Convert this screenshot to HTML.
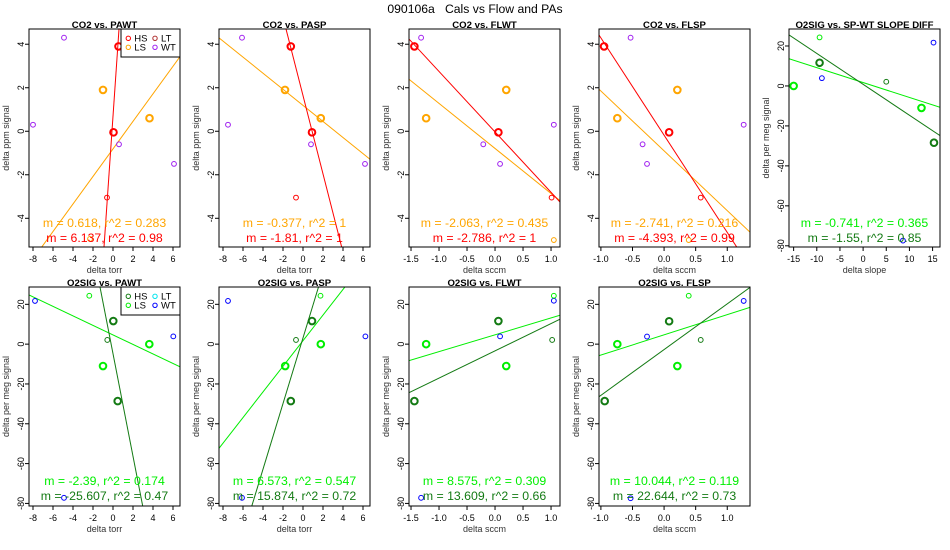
<!DOCTYPE html>
<html><head><meta charset="utf-8"><style>
html,body{margin:0;padding:0;background:#fff;overflow:hidden}
svg{display:block;font-family:"Liberation Sans",sans-serif}
</style></head><body>
<svg id="c" width="950" height="550" viewBox="0 0 950 550" xmlns="http://www.w3.org/2000/svg">
<rect x="0" y="0" width="950" height="550" fill="#fff"/>
<text x="475" y="13" text-anchor="middle" font-size="12.2" style="white-space:pre">090106a   Cals vs Flow and PAs</text>
</svg>
<script>
// ---- colours ----
const RED="#ff0000", ORANGE="#ffa500", PURPLE="#a020f0", LTRED="#b03030";
const DKG="#137a13", GRN="#00ee00", BLUE="#0000ff", CYAN="#00e5ee";

// ---- axis tick values ----
const torrTicks=[-8,-6,-4,-2,0,2,4,6];
const sccmTicksWT=[-1.5,-1.0,-0.5,0.0,0.5,1.0];
const sccmTicksSP=[-1.0,-0.5,0.0,0.5,1.0];
const slopeTicks=[-15,-10,-5,0,5,10,15];
const co2Ticks=[-4,-2,0,2,4];
const o2Ticks=[-80,-60,-40,-20,0,20];

// ---- CO2 vs PAWT ----
const p1HS=[[0.55,3.9],[0.05,-0.05]];
const p1LS=[[-1.0,1.9],[3.65,0.6]];
const p1LT=[[-0.6,-3.05]];
const p1WT=[[-4.9,4.3],[-8.0,0.3],[0.6,-0.6],[6.1,-1.5]];
const p1LSs=[[-2.3,-4.95]];
const p1Lines=[[0.633,-0.81],[6.68,0.69]];
const p1Stats=["m = 0.618, r^2 = 0.283","m = 6.137, r^2 = 0.98"];
// ---- CO2 vs PASP ----
const p2HS=[[-1.22,3.9],[0.9,-0.05]];
const p2LS=[[-1.8,1.9],[1.78,0.6]];
const p2LT=[[-0.7,-3.05]];
const p2WT=[[-6.1,4.3],[-7.5,0.3],[0.8,-0.6],[6.2,-1.5]];
const p2Lines=[[-0.3695,1.19],[-1.80,1.64]];
const p2Stats=["m = -0.377, r^2 = 1","m = -1.81, r^2 = 1"];
// ---- CO2 vs FLWT ----
const p3HS=[[-1.44,3.9],[0.06,-0.05]];
const p3LS=[[-1.23,0.6],[0.2,1.9]];
const p3LT=[[1.01,-3.05]];
const p3WT=[[-1.32,4.3],[-0.21,-0.6],[0.09,-1.5],[1.05,0.3]];
const p3LSs=[[1.05,-5.0]];
const p3Lines=[[-2.07,-0.79],[-2.778,-0.03]];
const p3Stats=["m = -2.063, r^2 = 0.435","m = -2.786, r^2 = 1"];
// ---- CO2 vs FLSP ----
const p4HS=[[-0.95,3.9],[0.08,-0.05]];
const p4LS=[[-0.74,0.6],[0.21,1.9]];
const p4LT=[[0.58,-3.05]];
const p4WT=[[-0.53,4.3],[-0.34,-0.6],[-0.27,-1.5],[1.26,0.3]];
const p4LSs=[[0.39,-5.0]];
const p4Lines=[[-2.749,-0.90],[-4.47,-0.18]];
const p4Stats=["m = -2.741, r^2 = 0.216","m = -4.393, r^2 = 0.99"];
// ---- O2SIG vs SP-WT slope diff ----
const p5HS=[[-9.4,11.6],[15.3,-28.4]];
const p5LS=[[-15.0,0],[12.6,-11]];
const p5HSs=[[5.0,2.1]];
const p5LSs=[[-9.4,24.3]];
const p5WT=[[-8.9,3.9],[15.2,21.7],[8.6,-77.4]];
const p5Lines=[[-0.745,1.7],[-1.546,0.8]];
const p5Stats=["m = -0.741, r^2 = 0.365","m = -1.55, r^2 = 0.85"];
// ---- O2SIG vs PAWT ----
const q1HS=[[0.03,11.6],[0.47,-28.6]];
const q1LS=[[-1.0,-11],[3.63,0]];
const q1HSs=[[-0.57,2.1]];
const q1LSs=[[-2.37,24.3]];
const q1WT=[[-7.8,21.7],[6.03,3.9],[-4.9,-77.2]];
const q1Lines=[[-2.39,4.62],[-25.76,-4.79]];
const q1Stats=["m = -2.39, r^2 = 0.174","m = -25.607, r^2 = 0.47"];
// ---- O2SIG vs PASP ----
const q2HS=[[0.9,11.6],[-1.22,-28.6]];
const q2LS=[[-1.78,-11],[1.78,0]];
const q2HSs=[[-0.7,2.1]];
const q2LSs=[[1.75,24.3]];
const q2WT=[[-7.5,21.7],[6.24,3.9],[-6.1,-77.2]];
const q2Lines=[[6.434,1.74],[16.49,3.14]];
const q2Stats=["m = 6.573, r^2 = 0.547","m = 15.874, r^2 = 0.72"];
// ---- O2SIG vs FLWT ----
const q3HS=[[-1.44,-28.6],[0.06,11.6]];
const q3LS=[[-1.23,0],[0.2,-11]];
const q3HSs=[[1.02,2.1]];
const q3LSs=[[1.05,24.3]];
const q3WT=[[1.05,21.8],[0.09,3.9],[-1.32,-77.2]];
const q3Lines=[[8.457,4.69],[13.69,-3.37]];
const q3Stats=["m = 8.575, r^2 = 0.309","m = 13.609, r^2 = 0.66"];
// ---- O2SIG vs FLSP ----
const q4HS=[[-0.94,-28.6],[0.08,11.5]];
const q4LS=[[-0.74,0],[0.21,-11]];
const q4HSs=[[0.58,2.1]];
const q4LSs=[[0.39,24.3]];
const q4WT=[[-0.27,3.8],[1.26,21.7],[-0.53,-77.4]];
const q4Lines=[[10.17,4.67],[22.97,-2.74]];
const q4Stats=["m = 10.044, r^2 = 0.119","m = 22.644, r^2 = 0.73"];

const svg=document.getElementById('c');
const NS="http://www.w3.org/2000/svg";
function mk(tag,attrs,parent){const e=document.createElementNS(NS,tag);for(const k in attrs)e.setAttribute(k,attrs[k]);(parent||svg).appendChild(e);return e;}

function panel(col,row,xr,yr,xt,yt,fmt,title,xlab,ylab,name,series,lines,lineCols,stats,legend){
  const x0=190*col+29,x1=190*col+180;
  const y0=row?287:29,y1=row?506:247;
  const sx=v=>x0+(v-xr[0])/(xr[1]-xr[0])*(x1-x0);
  const sy=v=>y1-(v-yr[0])/(yr[1]-yr[0])*(y1-y0);
  const g=mk('g',{});
  
  
  const cid='clip'+name;
  const cp=mk('clipPath',{id:cid},g);mk('rect',{x:x0,y:y0,width:x1-x0,height:y1-y0},cp);
  xt.forEach(v=>{const x=sx(v);
    mk('line',{x1:x,x2:x,y1:y1,y2:y1+4,stroke:'#000','stroke-width':1},g);
    const t=mk('text',{x:x,y:y1+15,'text-anchor':'middle','font-size':9,fill:'#000'},g);t.textContent=fmt(v);
    
    
  });
  mk('line',{x1:sx(xt[0]),x2:sx(xt[xt.length-1]),y1:y1,y2:y1,stroke:'#000'},g);
  yt.forEach(v=>{const y=sy(v);
    mk('line',{x1:x0-4,x2:x0,y1:y,y2:y,stroke:'#000'},g);
    const t=mk('text',{x:0,y:0,'text-anchor':'middle','font-size':9,fill:'#000',transform:`translate(${x0-5},${y}) rotate(-90)`},g);t.textContent=v;
    
    
  });
  mk('line',{x1:x0,x2:x0,y1:sy(yt[0]),y2:sy(yt[yt.length-1]),stroke:'#000'},g);
  const tt=mk('text',{x:(x0+x1)/2,y:y0-1,'text-anchor':'middle','font-size':9.6,'font-weight':'bold'},g);tt.textContent=title;
  
  
  const xl=mk('text',{x:(x0+x1)/2,y:y1+26,'text-anchor':'middle','font-size':9,fill:'#333'},g);xl.textContent=xlab;
  
  
  const yl=mk('text',{x:0,y:0,'text-anchor':'middle','font-size':9,fill:'#333',transform:`translate(${x0-20},${(y0+y1)/2}) rotate(-90)`},g);yl.textContent=ylab;
  
  
  const inner=mk('g',{'clip-path':`url(#${cid})`},g);
  lines.forEach((l,i)=>{
    const ln=mk('line',{x1:sx(xr[0]),y1:sy(l[0]*xr[0]+l[1]),x2:sx(xr[1]),y2:sy(l[0]*xr[1]+l[1]),stroke:lineCols[i],'stroke-width':1},inner);
    
    
  });
  series.forEach(s=>{s.pts.forEach(p=>{
    const c=mk('circle',{cx:sx(p[0]),cy:sy(p[1]),r:s.big?3.3:2.4,fill:'none',stroke:s.col,'stroke-width':s.big?2:1},inner);
    
    
  });});
  stats.forEach((s,i)=>{
    const t=mk('text',{x:(x0+x1)/2,y:(row?485:227)+i*15,'text-anchor':'middle','font-size':12.3,fill:lineCols[i]},g);t.textContent=s;
    
    
  });
  mk('rect',{x:x0,y:y0,width:x1-x0,height:y1-y0,fill:'none',stroke:'#000','stroke-width':1},g);
  if(legend){
    const lg=mk('g',{},g);
    
    
    mk('rect',{x:121,y:y0,width:59,height:28,fill:'#fff',stroke:'#000'},lg);
    legend.forEach((e,i)=>{
      const cx=i<2?128.3:155,cy=y0+9.3+(i%2)*9;
      mk('circle',{cx:cx,cy:cy,r:2.2,fill:'none',stroke:e[1]},lg);
      const t=mk('text',{x:cx+6,y:cy+3.4,'font-size':9.5,fill:'#000'},lg);t.textContent=e[0];
      
      
    });
  }
}
const f0=v=>String(v), f1=v=>v.toFixed(1);
const torrR=[-8.4,6.7], wtR=[-1.536,1.16], spR=[-1.03,1.36], slR=[-16.0,16.6];
const co2R=[-5.32,4.70], o2Rt=[-80.6,28.5], o2R=[-81.3,28.7];
const cL=[ORANGE,RED], oL=[GRN,DKG];
const cs=(hs,ls,lt,wt,lss)=>[{pts:wt,col:PURPLE},{pts:lt,col:RED},{pts:lss||[],col:ORANGE},{pts:ls,col:ORANGE,big:1},{pts:hs,col:RED,big:1}];
const os=(hs,ls,hss,lss,wt)=>[{pts:wt,col:BLUE},{pts:hss,col:DKG},{pts:lss,col:GRN},{pts:ls,col:GRN,big:1},{pts:hs,col:DKG,big:1}];

panel(0,0,torrR,co2R,torrTicks,co2Ticks,f0,'CO2 vs. PAWT','delta torr','delta ppm signal','co2-pawt',cs(p1HS,p1LS,p1LT,p1WT,p1LSs),p1Lines,cL,p1Stats,[['HS',RED],['LS',ORANGE],['LT',LTRED],['WT',PURPLE]]);
panel(1,0,torrR,co2R,torrTicks,co2Ticks,f0,'CO2 vs. PASP','delta torr','delta ppm signal','co2-pasp',cs(p2HS,p2LS,p2LT,p2WT),p2Lines,cL,p2Stats);
panel(2,0,wtR,co2R,sccmTicksWT,co2Ticks,f1,'CO2 vs. FLWT','delta sccm','delta ppm signal','co2-flwt',cs(p3HS,p3LS,p3LT,p3WT,p3LSs),p3Lines,cL,p3Stats);
panel(3,0,spR,co2R,sccmTicksSP,co2Ticks,f1,'CO2 vs. FLSP','delta sccm','delta ppm signal','co2-flsp',cs(p4HS,p4LS,p4LT,p4WT,p4LSs),p4Lines,cL,p4Stats);
panel(4,0,slR,o2Rt,slopeTicks,o2Ticks,f0,'O2SIG vs. SP-WT SLOPE DIFF','delta slope','delta per meg signal','o2-slope',os(p5HS,p5LS,p5HSs,p5LSs,p5WT),p5Lines,oL,p5Stats);
panel(0,1,torrR,o2R,torrTicks,o2Ticks,f0,'O2SIG vs. PAWT','delta torr','delta per meg signal','o2-pawt',os(q1HS,q1LS,q1HSs,q1LSs,q1WT),q1Lines,oL,q1Stats,[['HS',DKG],['LS',GRN],['LT',CYAN],['WT',BLUE]]);
panel(1,1,torrR,o2R,torrTicks,o2Ticks,f0,'O2SIG vs. PASP','delta torr','delta per meg signal','o2-pasp',os(q2HS,q2LS,q2HSs,q2LSs,q2WT),q2Lines,oL,q2Stats);
panel(2,1,wtR,o2R,sccmTicksWT,o2Ticks,f1,'O2SIG vs. FLWT','delta sccm','delta per meg signal','o2-flwt',os(q3HS,q3LS,q3HSs,q3LSs,q3WT),q3Lines,oL,q3Stats);
panel(3,1,spR,o2R,sccmTicksSP,o2Ticks,f1,'O2SIG vs. FLSP','delta sccm','delta per meg signal','o2-flsp',os(q4HS,q4LS,q4HSs,q4LSs,q4WT),q4Lines,oL,q4Stats);
</script>
</body></html>
